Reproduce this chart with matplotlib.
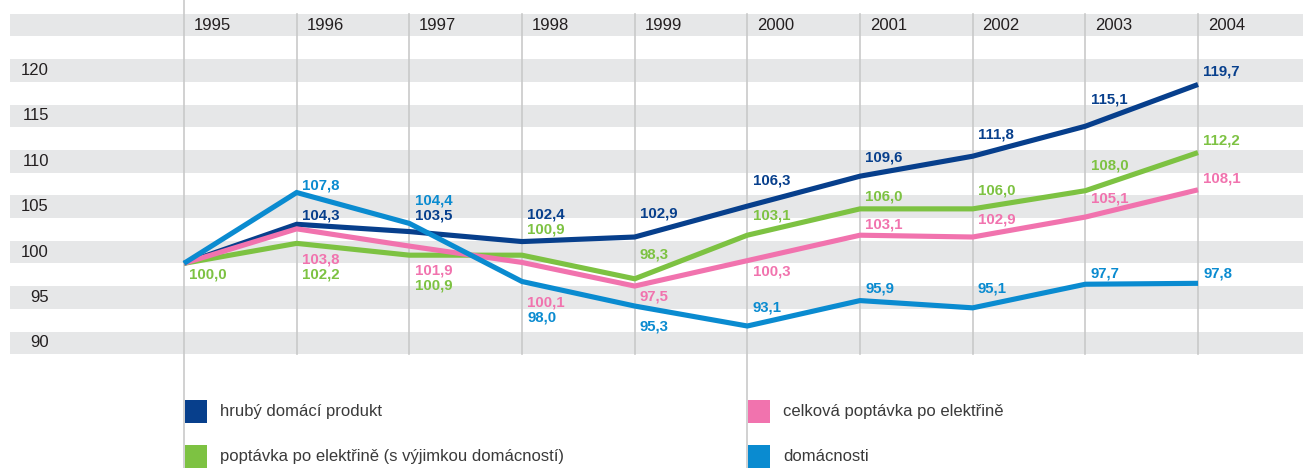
import matplotlib.pyplot as plt
from matplotlib.patches import Rectangle
from matplotlib.transforms import blended_transform_factory

plt.rcParams['font.family'] = ['Liberation Sans', 'DejaVu Sans']

years = [1995, 1996, 1997, 1998, 1999, 2000, 2001, 2002, 2003, 2004]
gdp = [100.0, 104.3, 103.5, 102.4, 102.9, 106.3, 109.6, 111.8, 115.1, 119.7]
demand_ex_households = [100.0, 102.2, 100.9, 100.9, 98.3, 103.1, 106.0, 106.0, 108.0, 112.2]
demand_total = [100.0, 103.8, 101.9, 100.1, 97.5, 100.3, 103.1, 102.9, 105.1, 108.1]
households = [100.0, 107.8, 104.4, 98.0, 95.3, 93.1, 95.9, 95.1, 97.7, 97.8]
yticks = [90, 95, 100, 105, 110, 115, 120]

names = ['hrubý domácí produkt',
         'poptávka po elektřině (s výjimkou domácností)',
         'celková poptávka po elektřině',
         'domácnosti']
colors = ['#073f8c', '#7dc242', '#f173ae', '#0a8bd0']
series = [gdp, demand_ex_households, demand_total, households]

# label offsets in pixels (down is positive), None = no label
label_dy = [
    [None, -9, -16, -27, -24, -26, -19, -22, -27, -13],
    [11, 31, 30, -26, -24, -20, -12, -18, -25, -12],
    [None, 31, 24, 40, 10, 11, -11, -18, -19, -11],
    [None, -7, -23, 36, 20, -19, -12, -19, -11, -10],
]

W, H = 1303, 468
fig = plt.figure(figsize=(W / 100, H / 100), dpi=100)
ax = fig.add_axes([0, 0, 1, 1])
ax.set_axis_off()

# pixel layout
px_year = (1198 - 184) / 9
px_unit = 9.08
shift = 1.25          # grid bands sit slightly above the plotted values
y100 = 252            # pixel row of the 100 band
ax.set_xlim(1995 - 184 / px_year, 1995 + (W - 184) / px_year)
ax.set_ylim(100 + shift - (H - y100) / px_unit, 100 + shift + y100 / px_unit)

half = 11.3 / px_unit
band_x0 = 10 / W
bands = yticks + [125]
for t in bands:
    ax.axhspan(t + shift - half, t + shift + half, xmin=band_x0, xmax=1,
               color='#e6e7e8', lw=0, zorder=0)

top = 125 + shift + half
bottom = 90 + shift - half
ylo, yhi = ax.get_ylim()
for yr in years:
    if yr == 1995:
        ax.axvline(yr, color='#c9c9c9', lw=1.2, zorder=1)
    elif yr == 2000:
        ax.plot([yr, yr], [top, ylo], color='#c9c9c9', lw=1.2, zorder=1)
    else:
        ax.plot([yr, yr], [top, bottom], color='#c9c9c9', lw=1.2, zorder=1)
    ax.annotate(str(yr), (yr, 125 + shift), xytext=(7, 0), textcoords='offset points',
                ha='left', va='center', fontsize=12, color='#231f20')

tr = blended_transform_factory(ax.transAxes, ax.transData)
for t in yticks:
    ax.text(49 / W, t + shift, str(t), transform=tr, ha='right', va='center',
            fontsize=12, color='#231f20')

for vals, c in zip(series, colors):
    ax.plot(years, vals, color=c, lw=3.7, solid_joinstyle='miter',
            solid_capstyle='butt', zorder=3)

for vals, c, dys in zip(series, colors, label_dy):
    for yr, v, dy in zip(years, vals, dys):
        if dy is None:
            continue
        ax.annotate(f'{v:.1f}'.replace('.', ','), (yr, v),
                    xytext=(3.8, -dy * 0.72), textcoords='offset points',
                    ha='left', va='center', fontsize=10.8, fontweight='bold',
                    color=c, zorder=4)

# legend
legend_pos = [(185, 400), (185, 445), (748, 400), (748, 445)]
for (lx, ly), name, c in zip(legend_pos, names, colors):
    ax.add_patch(Rectangle((lx / W, 1 - (ly + 23) / H), 22 / W, 23 / H,
                           transform=ax.transAxes, color=c, lw=0, clip_on=False))
    ax.text((lx + 35) / W, 1 - (ly + 11.5) / H, name, transform=ax.transAxes,
            ha='left', va='center', fontsize=12, color='#3a3a3a')

fig.savefig('out.png', dpi=100)
